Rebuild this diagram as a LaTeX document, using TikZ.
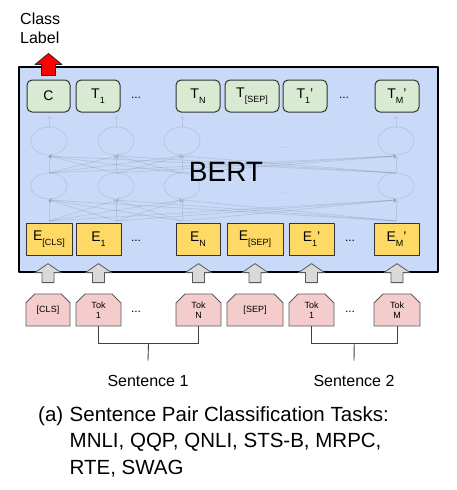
\documentclass[tikz,border=0pt]{standalone}
\usepackage{fontspec}
\setmainfont{Liberation Sans}
\usetikzlibrary{positioning,shapes.misc,calc}

\definecolor{bertblue}{HTML}{C9DAF8}
\definecolor{outgreen}{HTML}{D9EAD3}
\definecolor{embyellow}{HTML}{FFD966}
\definecolor{tokpink}{HTML}{F4CCCC}
\definecolor{ingray}{HTML}{D9D9D9}

% lowered small index, as in T_1
\newcommand{\tsub}[1]{\raisebox{-5pt}{\fontsize{9}{9}\selectfont #1}}

\begin{document}
\begin{tikzpicture}[x=1pt,y=-1pt,line join=round,
  bert box/.style={draw=black,line width=2.5pt,fill=bertblue,minimum width=419pt,minimum height=205pt,inner sep=0pt},
  out node/.style={draw=black!80,line width=1pt,fill=outgreen,rounded corners=5pt,minimum width=44pt,minimum height=32pt,inner sep=0pt,font=\fontsize{14}{14}\selectfont},
  emb node/.style={draw=black!80,line width=1pt,fill=embyellow,minimum width=45pt,minimum height=32pt,inner sep=0pt,font=\fontsize{14}{14}\selectfont},
  tok node/.style={chamfered rectangle,chamfered rectangle corners={north west,north east},chamfered rectangle sep=4.5pt,draw=black!65,line width=0.8pt,fill=tokpink,minimum width=45pt,minimum height=32pt,inner sep=0pt,align=center,font=\fontsize{9}{10.5}\selectfont},
  dots/.style={font=\fontsize{12}{12}\selectfont,inner sep=0pt},
  net/.style={draw=black,opacity=0.09,line width=0.8pt},
  in arrow/.style={draw=black!65,line width=0.8pt,fill=ingray},
  out arrow/.style={draw=black!85,line width=0.8pt,fill=red},
  bracket/.style={draw=black!75,line width=0.9pt},
  sentence/.style={font=\fontsize{16}{16}\selectfont,inner sep=0pt,anchor=base},
  caption/.style={font=\fontsize{20.5}{27}\selectfont,inner sep=0pt}]
  \useasboundingbox (0,0) rectangle (456,490);

  % BERT BOX
  \node[bert box] (bert) at (228.5,169.5) {};
  \foreach \i in {49,116,182,396} {
    \draw[net] (\i,141) ellipse [x radius=18pt,y radius=14pt];
    \draw[net] (\i,186) ellipse [x radius=18pt,y radius=13pt];
    \draw[net,->] (\i,127) -- (\i,116);
    \foreach \j in {49,116,182,396} {
      \draw[net,->] (\i,173) -- (\j,156);
      \draw[net,->] (\i,221) -- (\j,200);
    }
  }
  \node[dots,opacity=0.12] (net-dots1) at (285,148) {...};
  \node[dots,opacity=0.12] (net-dots2) at (285,194) {...};
  \node[font=\fontsize{28}{28}\selectfont] (bert-label) at (226,172) {BERT};

  % OUTPUT NODES
  \node[out node,minimum width=43pt] (t-c) at (48.5,96) {C};
  \node[out node] (t-1) at (98,96) {T\tsub{1}};
  \node[dots] (t-dots1) at (136,98) {...};
  \node[out node] (t-n) at (198,96) {T\tsub{N}};
  \node[out node,minimum width=54pt] (t-sep) at (252,96) {T\tsub{[SEP]}};
  \node[out node] (t-1p) at (305,96) {T\tsub{1}'};
  \node[dots] (t-dots2) at (344,98) {...};
  \node[out node] (t-mp) at (397,96) {T\tsub{M}'};

  % EMBEDDINGS
  \node[emb node,minimum width=46pt] (e-cls) at (49,239) {E\tsub{[CLS]}};
  \node[emb node] (e-1) at (98.5,239) {E\tsub{1}};
  \node[dots] (e-dots1) at (136,241) {...};
  \node[emb node,minimum width=44pt] (e-n) at (198,239) {E\tsub{N}};
  \node[emb node,minimum width=56pt] (e-sep) at (255,239) {E\tsub{[SEP]}};
  \node[emb node] (e-1p) at (311.5,239) {E\tsub{1}'};
  \node[dots] (e-dots2) at (350,241) {...};
  \node[emb node] (e-mp) at (396.5,239) {E\tsub{M}'};

  % TOKENS
  \node[tok node,minimum width=44pt] (tok-cls) at (48,310) {[CLS]};
  \node[tok node] (tok-1) at (98.5,310) {Tok\\1};
  \node[dots] (tok-dots1) at (136,312) {...};
  \node[tok node] (tok-n) at (198.5,310) {Tok\\N};
  \node[tok node,minimum width=56pt] (tok-sep) at (255,310) {[SEP]};
  \node[tok node] (tok-1p) at (311.5,310) {Tok\\1};
  \node[dots] (tok-dots2) at (350,312) {...};
  \node[tok node,minimum width=46pt] (tok-mp) at (397,310) {Tok\\M};

  % ARROWS
  \foreach \n in {cls,1,n,sep,1p,mp}
    \draw[in arrow] (tok-\n.north) ++(-6,-11) -- ++(0,-10) -- ++(-7,0)
      -- ++(13,-9) -- ++(13,9) -- ++(-7,0) -- ++(0,10) -- cycle;
  \node[caption,font=\fontsize{16}{19}\selectfont,align=left,anchor=north west] (class-label) at (20,13) {Class\\Label};
  \draw[out arrow] (t-c.north) ++(-7,-4) -- ++(0,-11) -- ++(-6.5,0)
    -- ++(13.5,-11) -- ++(13.5,11) -- ++(-6.5,0) -- ++(0,11) -- cycle;

  % SENTENCES
  \node[sentence] (sent-1) at (148,386) {Sentence 1};
  \node[sentence] (sent-2) at (354,386) {Sentence 2};
  \draw[bracket] (tok-1.south) -- ++(0,17) -| (tok-n.south);
  \draw[bracket] ($(tok-1.south)!0.5!(tok-n.south)+(0,17)$) -- ([yshift=14pt]sent-1.north);
  \draw[bracket] (tok-1p.south) -- ++(0,17) -| (tok-mp.south);
  \draw[bracket] ($(tok-1p.south)!0.5!(tok-mp.south)+(0,17)$) -- ([yshift=14pt]sent-2.north);

  % CAPTION
  \node[caption,anchor=base west] (cap-a) at (38,421) {(a)};
  \node[caption,anchor=base west,align=left] (cap-text) at (69.5,421) {Sentence Pair Classification Tasks:};
  \node[caption,anchor=north west,align=left] (cap-list) at ([yshift=-12pt]cap-text.south west) {MNLI, QQP, QNLI, STS-B, MRPC,\\RTE, SWAG};
\end{tikzpicture}
\end{document}
